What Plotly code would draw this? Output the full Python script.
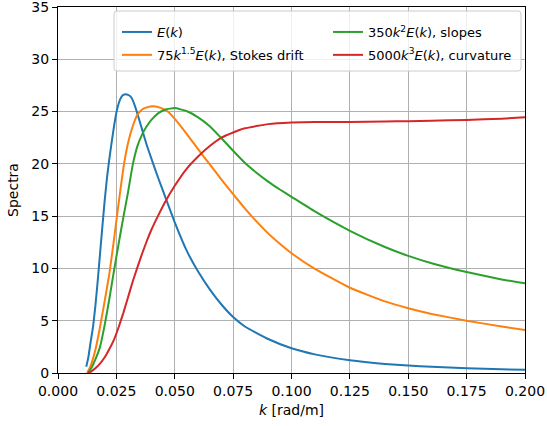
import plotly.graph_objects as go

# ---- data ----
blue_k = [0.0121, 0.013, 0.014, 0.015, 0.016, 0.017, 0.018, 0.019, 0.020, 0.021, 0.022, 0.023, 0.024,
          0.025, 0.026, 0.027, 0.028, 0.029, 0.030, 0.031, 0.032, 0.033, 0.034, 0.036, 0.038, 0.040,
          0.043, 0.046, 0.050, 0.055, 0.060, 0.065, 0.070, 0.075, 0.080, 0.090, 0.100, 0.110, 0.125,
          0.140, 0.150, 0.160, 0.175, 0.190, 0.200]
blue_v = [0.6, 1.5, 3.0, 4.4, 6.4, 8.8, 11.4, 14.0, 16.5, 18.7, 20.5, 22.1, 23.6,
          24.9, 25.8, 26.35, 26.6, 26.65, 26.6, 26.45, 26.1, 25.5, 24.8, 23.3, 21.8, 20.5,
          18.6, 16.8, 14.4, 11.75, 9.7, 8.0, 6.55, 5.35, 4.45, 3.25, 2.36, 1.78, 1.22,
          0.87, 0.71, 0.59, 0.45, 0.35, 0.30]

orange_k = [0.0125, 0.014, 0.016, 0.018, 0.020, 0.022, 0.024, 0.026, 0.028, 0.030, 0.032, 0.034, 0.036,
            0.038, 0.041, 0.044, 0.047, 0.050, 0.055, 0.060, 0.065, 0.070, 0.075, 0.080, 0.085, 0.090,
            0.095, 0.100, 0.110, 0.125, 0.140, 0.150, 0.160, 0.175, 0.190, 0.200]
orange_v = [0.0, 0.7, 2.2, 4.4, 6.9, 9.5, 12.8, 16.3, 19.6, 22.0, 23.6, 24.7, 25.2,
            25.4, 25.5, 25.35, 25.0, 24.3, 22.9, 21.4, 19.95, 18.5, 17.1, 15.75, 14.5, 13.35,
            12.35, 11.45, 9.95, 8.15, 6.85, 6.2, 5.65, 5.0, 4.45, 4.11]

green_k = [0.0128, 0.014, 0.016, 0.018, 0.020, 0.022, 0.024, 0.026, 0.028, 0.030, 0.032, 0.034, 0.036,
           0.038, 0.040, 0.043, 0.046, 0.050, 0.055, 0.060, 0.065, 0.070, 0.075, 0.080, 0.085, 0.090,
           0.095, 0.100, 0.110, 0.125, 0.140, 0.150, 0.160, 0.175, 0.190, 0.200]
green_v = [0.0, 0.35, 1.3, 2.5, 4.6, 7.1, 9.8, 12.4, 14.9, 17.3, 19.9, 21.7, 22.8,
           23.6, 24.2, 24.85, 25.2, 25.33, 25.05, 24.45, 23.6, 22.45, 21.25, 20.1, 19.15, 18.3,
           17.55, 16.85, 15.45, 13.6, 12.05, 11.2, 10.5, 9.65, 8.95, 8.58]

red_k = [0.013, 0.014, 0.016, 0.018, 0.020, 0.022, 0.024, 0.026, 0.028, 0.030, 0.032, 0.034, 0.036,
         0.038, 0.040, 0.043, 0.046, 0.050, 0.055, 0.060, 0.065, 0.070, 0.075, 0.080, 0.090, 0.100,
         0.110, 0.125, 0.140, 0.150, 0.160, 0.175, 0.190, 0.200]
red_v = [0.0, 0.1, 0.45, 0.9, 1.5, 2.3, 3.2, 4.4, 5.75, 7.25, 8.75, 10.1, 11.4,
         12.6, 13.7, 15.1, 16.4, 17.9, 19.5, 20.7, 21.7, 22.5, 23.0, 23.4, 23.8, 23.95,
         24.0, 24.0, 24.05, 24.08, 24.12, 24.2, 24.32, 24.45]

labels = ["<i>E</i>(<i>k</i>)",
          "75<i>k</i><sup>1.5</sup><i>E</i>(<i>k</i>), Stokes drift",
          "350<i>k</i><sup>2</sup><i>E</i>(<i>k</i>), slopes",
          "5000<i>k</i><sup>3</sup><i>E</i>(<i>k</i>), curvature"]
colors = ["#1f77b4", "#ff7f0e", "#2ca02c", "#d62728"]
x_ticks = [0.0, 0.025, 0.05, 0.075, 0.1, 0.125, 0.15, 0.175, 0.2]
y_ticks = [0, 5, 10, 15, 20, 25, 30, 35]

series = [(blue_k, blue_v), (orange_k, orange_v), (green_k, green_v), (red_k, red_v)]
legend_ids = ["legend", "legend", "legend2", "legend2"]

FONT = "DejaVu Sans"
W, H = 547, 426
ML, MR, MT, MB = 58, 22, 7, 53
PW, PH = W - ML - MR, H - MT - MB

fig = go.Figure()
for i, ((kk, vv), name, c, lg) in enumerate(zip(series, labels, colors, legend_ids)):
    fig.add_trace(go.Scatter(x=kk, y=vv, mode="lines", name=name, legend=lg,
                             legendgroup=f"g{i}",
                             line=dict(color=c, width=2, shape="spline", smoothing=0.4)))

def px2paper_x(px):
    return (px - ML) / PW

def px2paper_y(py):
    return (H - MB - py) / PH

# legend frame (rounded box)
x0, x1 = px2paper_x(114), px2paper_x(521)
y0, y1 = px2paper_y(71), px2paper_y(11)
rx, ry = 3 / PW, 3 / PH
path = (f"M {x0+rx},{y0} L {x1-rx},{y0} Q {x1},{y0} {x1},{y0+ry} L {x1},{y1-ry} Q {x1},{y1} {x1-rx},{y1} "
        f"L {x0+rx},{y1} Q {x0},{y1} {x0},{y1-ry} L {x0},{y0+ry} Q {x0},{y0} {x0+rx},{y0} Z")

fig.update_layout(
    width=W, height=H,
    margin=dict(l=ML, r=MR, t=MT, b=MB, autoexpand=False),
    paper_bgcolor="white", plot_bgcolor="white",
    font=dict(family=FONT, size=14, color="black"),
    shapes=[dict(type="path", path=path, xref="paper", yref="paper", layer="above",
                 fillcolor="rgba(255,255,255,0.8)", line=dict(color="#cccccc", width=1))],
    legend=dict(x=px2paper_x(117), y=px2paper_y(17), xanchor="left", yanchor="top",
                bgcolor="rgba(0,0,0,0)", borderwidth=0, tracegroupgap=3,
                font=dict(family=FONT, size=13, color="black")),
    legend2=dict(x=px2paper_x(328), y=px2paper_y(17), xanchor="left", yanchor="top",
                 bgcolor="rgba(0,0,0,0)", borderwidth=0, tracegroupgap=3,
                 font=dict(family=FONT, size=13, color="black")),
    xaxis=dict(range=[0, 0.2], tickvals=x_ticks, tickformat=".3f", automargin=False,
               showgrid=True, gridcolor="#b0b0b0", gridwidth=1,
               showline=True, linecolor="black", linewidth=1, mirror=True,
               ticks="outside", ticklen=5, tickcolor="black", zeroline=False,
               ticklabeloverflow="allow",
               title=dict(text="<i>k</i> [rad/m]", font=dict(size=14), standoff=7)),
    yaxis=dict(range=[0, 35], tickvals=y_ticks, automargin=False,
               showgrid=True, gridcolor="#b0b0b0", gridwidth=1,
               showline=True, linecolor="black", linewidth=1, mirror=True,
               ticks="outside", ticklen=5, tickcolor="black", zeroline=False,
               ticklabeloverflow="allow",
               title=dict(text="Spectra", font=dict(size=14), standoff=9)),
)

fig.write_html("out.html")
